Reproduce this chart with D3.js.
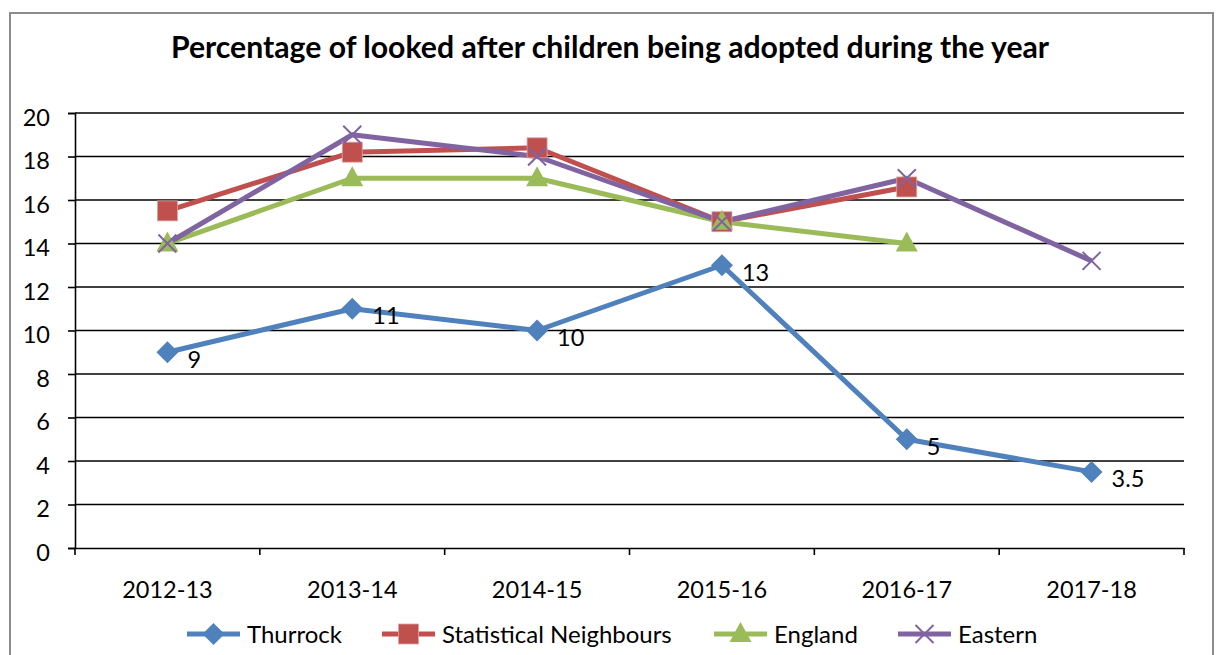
<!DOCTYPE html>
<html>
<head>
<meta charset="utf-8">
<script src="https://d3js.org/d3.v7.min.js"></script>
<style>
  body { margin: 0; background: #fff; }
  text { font-family: Lato, "Liberation Sans", sans-serif; fill: #000; }
</style>
</head>
<body>
<div id="chart"></div>
<script>
var years = ["2012-13", "2013-14", "2014-15", "2015-16", "2016-17", "2017-18"];
var thurrock = [9, 11, 10, 13, 5, 3.5];
var statNeighbours = [15.5, 18.2, 18.4, 15, 16.6, null];
var england = [14, 17, 17, 15, 14, null];
var eastern = [14, 19, 18, 15, 17, 13.2];
var yTicks = [0, 2, 4, 6, 8, 10, 12, 14, 16, 18, 20];

var series = [
    {name: "Thurrock", values: thurrock, color: "#4F81BD", marker: "diamond", labels: true},
    {name: "Statistical Neighbours", values: statNeighbours, color: "#C0504D", marker: "square"},
    {name: "England", values: england, color: "#9BBB59", marker: "triangle"},
    {name: "Eastern", values: eastern, color: "#8064A2", marker: "cross"}
];

var W = 1218, H = 655;
var margin = {top: 113, right: 34, bottom: 107, left: 75};
var width = W - margin.left - margin.right;
var height = H - margin.top - margin.bottom;

var svg = d3.select("#chart").append("svg")
    .attr("width", W)
    .attr("height", H);

// outer chart border
svg.append("rect")
    .attr("x", 10).attr("y", 13)
    .attr("width", 1203).attr("height", 660)
    .attr("fill", "none")
    .attr("stroke", "#8c8c8c")
    .attr("stroke-width", 2);

svg.append("text")
    .attr("x", 610).attr("y", 58)
    .attr("text-anchor", "middle")
    .style("font-size", "30.2px")
    .style("font-weight", "bold")
    .text("Percentage of looked after children being adopted during the year");

var g = svg.append("g")
    .attr("transform", "translate(" + margin.left + "," + margin.top + ")");

var x = d3.scaleBand().domain(years).range([0, width]);
var y = d3.scaleLinear().domain([0, 20]).range([height, 0]);

// gridlines
g.selectAll(".grid")
    .data(yTicks.filter(function(d) { return d > 0; }))
    .enter().append("line")
    .attr("x1", 0).attr("x2", width)
    .attr("y1", function(d) { return y(d); })
    .attr("y2", function(d) { return y(d); })
    .attr("stroke", "#000")
    .attr("stroke-width", 1.6);

// y axis
var yAxis = g.append("g")
    .call(d3.axisLeft(y).tickValues(yTicks).tickSize(7).tickPadding(18));
yAxis.select(".domain").attr("stroke-width", 1.6);
yAxis.selectAll(".tick line").attr("stroke-width", 1.6);
yAxis.selectAll("text").style("font-size", "23.5px").attr("dy", "0.52em");

// x axis with ticks at band boundaries
var xAxis = g.append("g")
    .attr("transform", "translate(0," + height + ")")
    .call(d3.axisBottom(x).tickSize(0).tickPadding(33));
xAxis.select(".domain").attr("stroke-width", 1.6);
xAxis.selectAll("text").style("font-size", "23.5px");
var bounds = years.map(function(d) { return x(d); }).concat([width]);
xAxis.selectAll(".xb")
    .data(bounds)
    .enter().append("line")
    .attr("x1", function(d) { return d; }).attr("x2", function(d) { return d; })
    .attr("y1", 0).attr("y2", 7)
    .attr("stroke", "#000")
    .attr("stroke-width", 1.6);

function cx(i) { return x(years[i]) + x.bandwidth() / 2; }

var line = d3.line()
    .defined(function(d) { return d != null; })
    .x(function(d, i) { return cx(i); })
    .y(function(d) { return y(d); });

function drawMarker(sel, type, color, px, py) {
    if (type === "diamond") {
        sel.append("path")
            .attr("d", "M" + px + "," + (py - 11) + "L" + (px + 11) + "," + py +
                       "L" + px + "," + (py + 11) + "L" + (px - 11) + "," + py + "Z")
            .attr("fill", color);
    } else if (type === "square") {
        sel.append("rect")
            .attr("x", px - 10).attr("y", py - 10)
            .attr("width", 20).attr("height", 20)
            .attr("fill", color)
            .attr("stroke", "#dca3a3").attr("stroke-width", 0.8);
    } else if (type === "triangle") {
        sel.append("path")
            .attr("d", "M" + px + "," + (py - 12) + "L" + (px + 11) + "," + (py + 8) +
                       "L" + (px - 11) + "," + (py + 8) + "Z")
            .attr("fill", color);
    } else if (type === "cross") {
        sel.append("path")
            .attr("d", "M" + (px - 9) + "," + (py - 9) + "L" + (px + 9) + "," + (py + 9) +
                       "M" + (px - 9) + "," + (py + 9) + "L" + (px + 9) + "," + (py - 9))
            .attr("stroke", color).attr("stroke-width", 2);
    }
}

series.forEach(function(s) {
    g.append("path")
        .datum(s.values)
        .attr("d", line)
        .attr("fill", "none")
        .attr("stroke", s.color)
        .attr("stroke-width", 5)
        .attr("stroke-linejoin", "round");
});

series.forEach(function(s) {
    var mg = g.append("g");
    s.values.forEach(function(v, i) {
        if (v == null) return;
        drawMarker(mg, s.marker, s.color, cx(i), y(v));
    });
    if (s.labels) {
        g.selectAll(".lbl")
            .data(s.values)
            .enter().append("text")
            .attr("x", function(d, i) { return cx(i) + 20; })
            .attr("y", function(d) { return y(d) + 7; })
            .attr("dy", "0.36em")
            .style("font-size", "23.5px")
            .text(function(d) { return d; });
    }
});

// legend
var legendX = [187, 382, 714, 898];
var legend = svg.append("g").attr("transform", "translate(0,634)");
series.forEach(function(s, i) {
    var lx = legendX[i];
    legend.append("line")
        .attr("x1", lx).attr("x2", lx + 53)
        .attr("y1", 0).attr("y2", 0)
        .attr("stroke", s.color).attr("stroke-width", 5);
    drawMarker(legend, s.marker, s.color, lx + 26.5, 0);
    legend.append("text")
        .attr("x", lx + 60).attr("y", 0)
        .attr("dy", "0.36em")
        .style("font-size", "24px")
        .text(s.name);
});
</script>
</body>
</html>
